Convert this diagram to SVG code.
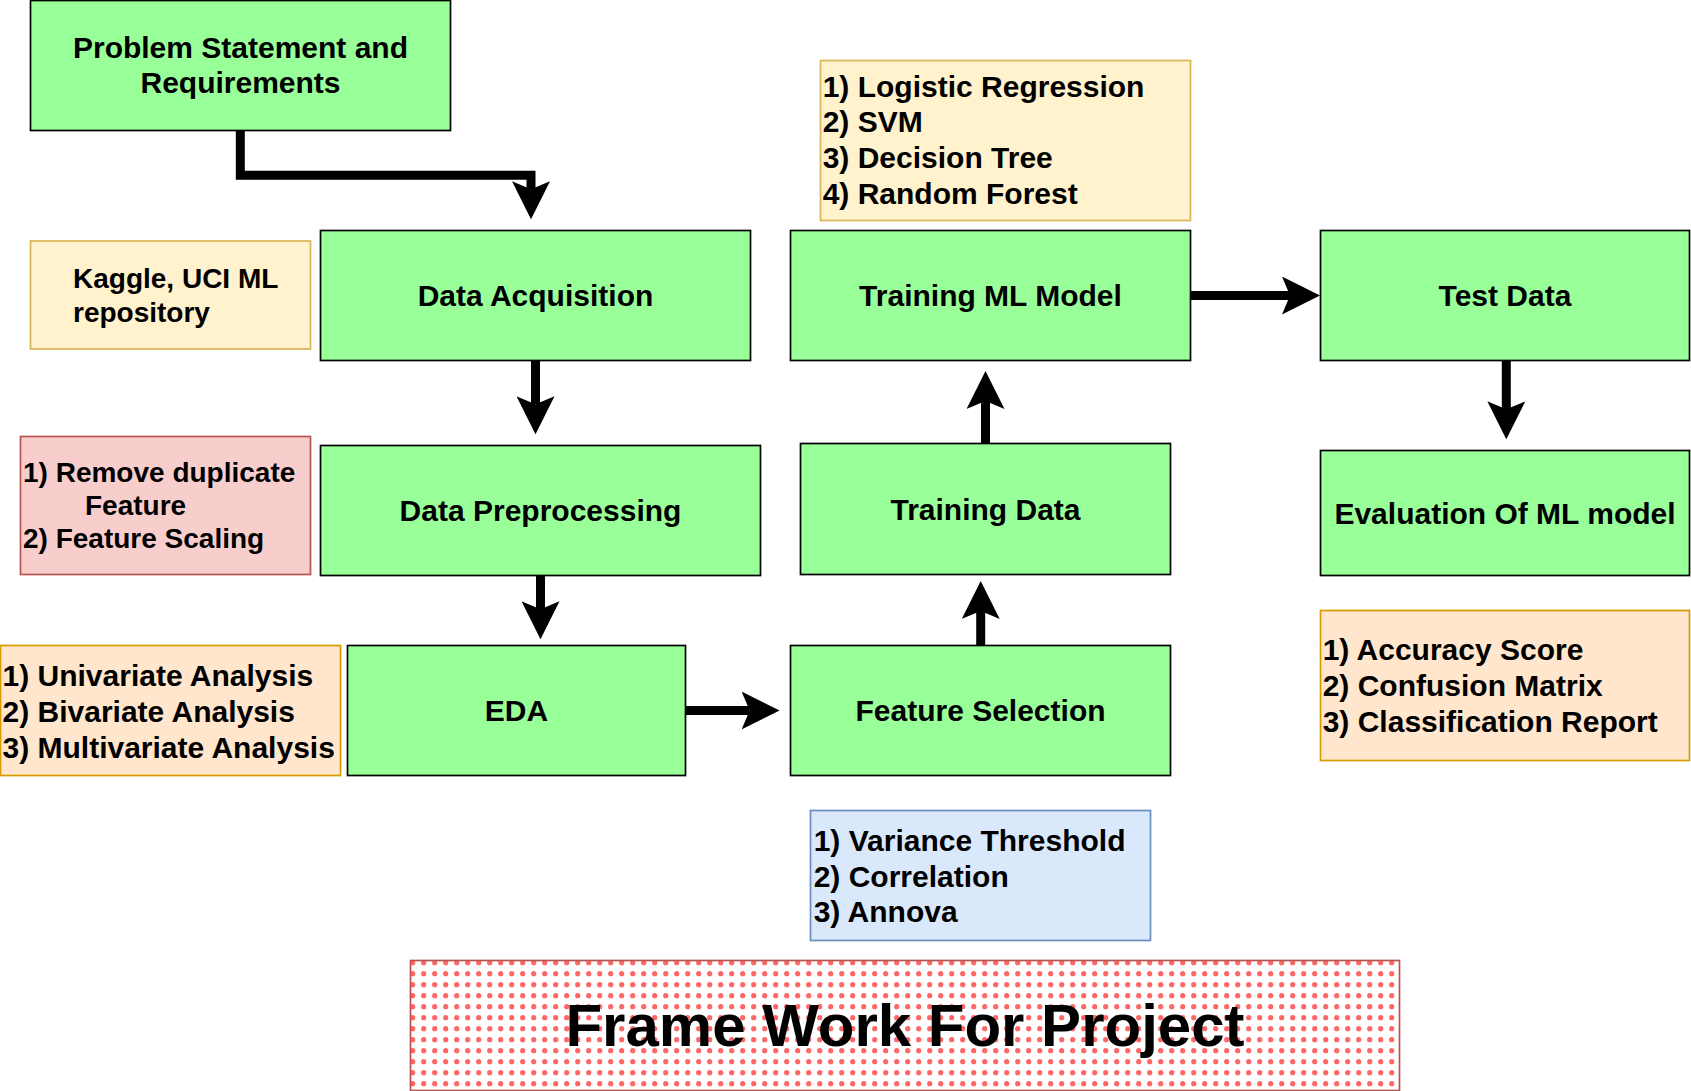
<svg xmlns="http://www.w3.org/2000/svg" width="1691" height="1091" viewBox="0 0 1691 1091">
<style>
text{font-family:"Liberation Sans",Arial,Helvetica,sans-serif;font-weight:bold;fill:#000}
.node{fill:#99ff99;stroke:#000;stroke-width:1.7}
.yel{fill:#fff2cc;stroke:#d6b656;stroke-width:1.7}
.red{fill:#f8cecc;stroke:#b85450;stroke-width:1.7}
.org{fill:#ffe6cc;stroke:#d79b00;stroke-width:1.7}
.blu{fill:#dae8fc;stroke:#6c8ebf;stroke-width:1.7}
.lbl{font-size:30px;text-anchor:middle}
.lst{font-size:30px}
.sm{font-size:28px}
.edge{fill:none;stroke:#000;stroke-width:9;stroke-linejoin:miter;marker-end:url(#arr)}
</style>
<defs>
<marker id="arr" markerUnits="userSpaceOnUse" viewBox="0 0 38 38" markerWidth="38" markerHeight="38" refX="8" refY="19" orient="auto">
<path d="M0,0 L38,19 L0,38 L8,19 Z" fill="#000"/>
</marker>
<pattern id="dots" patternUnits="userSpaceOnUse" width="11" height="11">
<rect width="11" height="11" fill="#fff"/>
<circle cx="5.7" cy="5.7" r="2.6" fill="#ff6666"/>
</pattern>
</defs>
<rect width="1691" height="1091" fill="#fff"/>

<g id="connectors">
<path class="edge" d="M240.3,130.5 V175.3 H531 V189.3"/>
<path class="edge" d="M535.5,360.5 V404.3"/>
<path class="edge" d="M540.5,575.5 V609.3"/>
<path class="edge" d="M685.5,710.5 H749.6"/>
<path class="edge" d="M980.7,645.5 V611"/>
<path class="edge" d="M985.5,443.5 V401"/>
<path class="edge" d="M1190.5,295.5 H1290"/>
<path class="edge" d="M1506.3,360.5 V409.3"/>
</g>

<g id="problem">
<rect class="node" x="30.5" y="0.5" width="420" height="130"/>
<text class="lbl" x="240.5" y="58">Problem Statement and</text>
<text class="lbl" x="240.5" y="93">Requirements</text>
</g>

<g id="kaggle">
<rect class="yel" x="30.5" y="241" width="280" height="108"/>
<text class="sm" x="73" y="288">Kaggle, UCI ML</text>
<text class="sm" x="73" y="322">repository</text>
</g>

<g id="data-acquisition">
<rect class="node" x="320.5" y="230.5" width="430" height="130"/>
<text class="lbl" x="535.5" y="306">Data Acquisition</text>
</g>

<g id="remove-duplicate">
<rect class="red" x="20.5" y="436.5" width="290" height="138"/>
<text class="sm" x="23" y="482">1) Remove duplicate</text>
<text class="sm" x="85" y="515">Feature</text>
<text class="sm" x="23" y="548">2) Feature Scaling</text>
</g>

<g id="data-preprocessing">
<rect class="node" x="320.5" y="445.5" width="440" height="130"/>
<text class="lbl" x="540.5" y="521">Data Preprocessing</text>
</g>

<g id="analysis">
<rect class="org" x="0.5" y="645.5" width="340" height="130"/>
<text class="lst" x="2.5" y="685.5">1) Univariate Analysis</text>
<text class="lst" x="2.5" y="721.5">2) Bivariate Analysis</text>
<text class="lst" x="2.5" y="757.5">3) Multivariate Analysis</text>
</g>

<g id="eda">
<rect class="node" x="347.5" y="645.5" width="338" height="130"/>
<text class="lbl" x="516.5" y="721">EDA</text>
</g>

<g id="feature-selection">
<rect class="node" x="790.5" y="645.5" width="380" height="130"/>
<text class="lbl" x="980.5" y="721">Feature Selection</text>
</g>

<g id="selection-methods">
<rect class="blu" x="810.5" y="810.5" width="340" height="130"/>
<text class="lst" x="813.7" y="850.5">1) Variance Threshold</text>
<text class="lst" x="813.7" y="886.5">2) Correlation</text>
<text class="lst" x="813.7" y="922">3) Annova</text>
</g>

<g id="training-data">
<rect class="node" x="800.5" y="443.5" width="370" height="131"/>
<text class="lbl" x="985.5" y="519.5">Training Data</text>
</g>

<g id="training-ml-model">
<rect class="node" x="790.5" y="230.5" width="400" height="130"/>
<text class="lbl" x="990.5" y="306">Training ML Model</text>
</g>

<g id="models">
<rect class="yel" x="820.5" y="60.5" width="370" height="160"/>
<text class="lst" x="822.7" y="96.7">1) Logistic Regression</text>
<text class="lst" x="822.7" y="132.3">2) SVM</text>
<text class="lst" x="822.7" y="168.3">3) Decision Tree</text>
<text class="lst" x="822.7" y="204">4) Random Forest</text>
</g>

<g id="test-data">
<rect class="node" x="1320.5" y="230.5" width="369" height="130"/>
<text class="lbl" x="1505" y="306">Test Data</text>
</g>

<g id="evaluation">
<rect class="node" x="1320.5" y="450.5" width="369" height="125"/>
<text class="lbl" x="1505" y="523.5">Evaluation Of ML model</text>
</g>

<g id="metrics">
<rect class="org" x="1320.5" y="610.5" width="369" height="150"/>
<text class="lst" x="1322.7" y="660.3">1) Accuracy Score</text>
<text class="lst" x="1322.7" y="696.3">2) Confusion Matrix</text>
<text class="lst" x="1322.7" y="732">3) Classification Report</text>
</g>

<g id="title">
<rect x="410.5" y="960.5" width="989" height="130" fill="url(#dots)" stroke="#b85450" stroke-width="1.7"/>
<text x="905" y="1046" font-size="60" text-anchor="middle">Frame Work For Project</text>
</g>
</svg>
